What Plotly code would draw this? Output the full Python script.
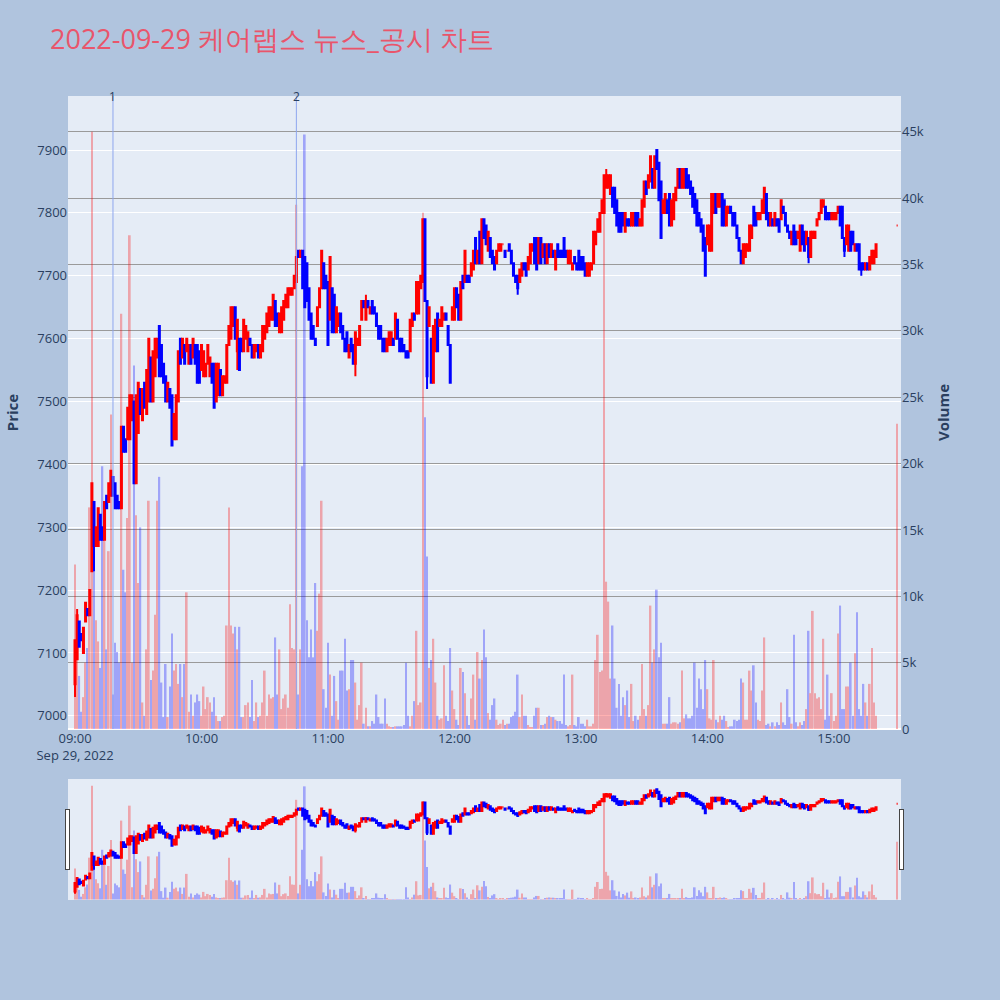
import pandas as pd
import plotly.graph_objects as go

TITLE = "2022-09-29 케어랩스 뉴스_공시 차트"

# minute offsets from 09:00 (continuous session 09:00-15:20, closing auction 15:30)
MINUTES = list(range(381)) + [390]

OPEN = [
    7050,7090,7150,7130,7100,7150,7170,7160,7230,7340,
    7270,7270,7320,7300,7280,7350,7340,7350,7380,7370,
    7350,7340,7330,7460,7440,7440,7440,7470,7500,7370,
    7450,7520,7470,7530,7480,7500,7570,7500,7540,7570,
    7620,7590,7560,7540,7500,7520,7510,7440,7440,7500,
    7600,7570,7590,7580,7560,7590,7570,7590,7590,7580,
    7550,7540,7540,7560,7540,7560,7560,7500,7510,7550,
    7510,7530,7530,7590,7600,7620,7650,7580,7600,7600,
    7580,7600,7580,7600,7590,7570,7580,7590,7570,7580,
    7600,7610,7620,7630,7630,7660,7640,7610,7610,7630,
    7650,7650,7670,7670,7680,7690,7740,7730,7740,7730,
    7720,7680,7640,7620,7600,7620,7650,7680,7720,7700,
    7690,7630,7680,7670,7610,7620,7640,7620,7600,7610,
    7570,7600,7590,7560,7590,7590,7630,7660,7630,7660,
    7640,7660,7650,7640,7620,7620,7600,7600,7580,7590,
    7590,7600,7600,7630,7600,7600,7590,7580,7580,7580,
    7620,7640,7640,7640,7680,7690,7790,7660,7620,7600,
    7530,7580,7640,7620,7620,7630,7640,7620,7590,7630,
    7630,7680,7670,7630,7700,7690,7700,7700,7700,7710,
    7760,7720,7770,7720,7790,7780,7740,7760,7740,7730,
    7720,7740,7740,7750,7740,7740,7750,7740,7720,7700,
    7700,7690,7700,7720,7720,7710,7720,7740,7760,7760,
    7720,7760,7730,7750,7720,7750,7730,7740,7710,7750,
    7740,7740,7760,7740,7720,7720,7710,7730,7720,7740,
    7730,7730,7720,7700,7700,7710,7720,7750,7770,7770,
    7800,7800,7840,7840,7830,7840,7840,7820,7800,7800,
    7800,7770,7790,7790,7780,7780,7800,7800,7780,7780,
    7810,7850,7840,7850,7870,7840,7900,7880,7850,7800,
    7800,7820,7830,7780,7790,7820,7840,7870,7840,7840,
    7870,7860,7850,7840,7830,7820,7800,7790,7780,7760,
    7750,7740,7740,7800,7830,7810,7810,7830,7820,7780,
    7800,7810,7800,7800,7780,7760,7740,7720,7730,7740,
    7740,7760,7810,7800,7790,7790,7800,7800,7830,7800,
    7780,7790,7780,7790,7790,7790,7810,7800,7780,7770,
    7750,7780,7770,7760,7740,7780,7770,7750,7760,7730,
    7760,7760,7780,7790,7800,7810,7810,7800,7800,7790,
    7790,7790,7800,7810,7810,7760,7750,7740,7770,7770,
    7740,7750,7750,7720,7720,7710,7720,7710,7720,7720,
    7730,
    7780,
]

CLOSE = [
    7120,7160,7110,7120,7140,7180,7160,7200,7370,7270,
    7300,7330,7280,7280,7340,7330,7370,7390,7350,7330,
    7330,7330,7460,7420,7420,7490,7510,7510,7370,7510,
    7530,7480,7520,7490,7550,7600,7500,7580,7600,7600,
    7540,7540,7530,7500,7530,7490,7430,7480,7510,7580,
    7560,7600,7560,7600,7590,7560,7600,7560,7530,7530,
    7590,7580,7560,7590,7570,7530,7490,7560,7560,7510,
    7540,7540,7590,7620,7650,7650,7600,7630,7550,7580,
    7630,7620,7610,7590,7570,7590,7590,7570,7590,7620,
    7620,7640,7650,7650,7670,7620,7620,7640,7650,7660,
    7670,7680,7680,7680,7700,7730,7730,7740,7680,7650,
    7660,7630,7600,7600,7590,7650,7680,7740,7680,7680,
    7590,7730,7610,7610,7650,7640,7610,7600,7580,7580,
    7590,7580,7560,7610,7600,7620,7660,7650,7660,7650,
    7650,7640,7640,7620,7600,7600,7580,7580,7600,7610,
    7610,7590,7640,7600,7580,7580,7580,7570,7570,7630,
    7640,7630,7690,7690,7700,7790,7660,7540,7650,7530,
    7620,7630,7580,7630,7650,7640,7630,7590,7530,7650,
    7680,7650,7630,7690,7680,7740,7690,7690,7720,7740,
    7720,7740,7720,7790,7760,7750,7770,7730,7720,7710,
    7740,7750,7750,7750,7730,7740,7740,7720,7700,7690,
    7680,7710,7720,7710,7700,7730,7750,7750,7720,7710,
    7760,7720,7750,7720,7750,7730,7750,7730,7740,7730,
    7730,7730,7730,7730,7740,7740,7720,7720,7710,7710,
    7710,7710,7700,7720,7720,7720,7770,7770,7790,7800,
    7820,7860,7860,7860,7860,7810,7800,7780,7770,7770,
    7780,7800,7780,7780,7800,7800,7780,7780,7790,7820,
    7850,7830,7860,7890,7840,7890,7870,7820,7760,7820,
    7830,7800,7780,7820,7830,7840,7870,7840,7870,7870,
    7840,7840,7830,7810,7800,7780,7780,7770,7740,7700,
    7780,7780,7830,7830,7800,7830,7830,7780,7780,7810,
    7810,7800,7780,7780,7760,7740,7720,7750,7750,7750,
    7780,7780,7780,7780,7800,7800,7820,7840,7790,7780,
    7800,7780,7800,7780,7770,7820,7800,7780,7770,7760,
    7770,7750,7750,7770,7780,7750,7740,7770,7730,7770,
    7770,7770,7790,7800,7820,7820,7790,7790,7790,7800,
    7800,7800,7810,7780,7760,7740,7780,7780,7740,7750,
    7750,7740,7710,7710,7710,7720,7710,7730,7740,7740,
    7750,
    7780,
]

# wicks visible beyond the candle bodies (minute offset -> price)
HIGH_WICKS = {1: 7170, 138: 7670, 252: 7870}
LOW_WICKS = {0: 7030, 9: 7230, 77: 7550, 133: 7540, 167: 7520,
             210: 7670, 348: 7720, 365: 7730, 373: 7700}

VOLUME = [
    12400,5400,4000,1300,2400,5000,6100,16700,45000,17200,
    8200,6600,4600,19800,16600,6000,13400,23700,2600,6500,
    5800,5000,31300,12000,10300,15900,37200,5000,27400,16100,
    11000,15200,2000,1000,6000,17200,3700,4400,8600,17200,
    19000,3500,900,4900,900,3200,7200,4400,4900,3400,
    4900,2400,4900,10300,1300,2600,1000,2000,2600,2100,
    1000,3200,1500,2400,2000,1300,2400,1000,600,600,
    900,1000,7800,16700,7800,7200,7700,6000,7700,900,
    900,1800,2000,900,3700,600,2000,900,1000,2000,
    4400,1000,2600,2300,2400,6900,2600,6000,1500,2300,
    2600,1600,9400,6100,6000,39500,2600,6000,19800,44800,
    8200,5400,7500,5400,11000,7400,10200,17200,3000,1600,
    6500,4100,1000,4000,2100,700,4400,4400,6800,2900,
    3000,5200,5200,3500,700,1800,5000,400,1600,200,
    200,600,400,2600,900,400,400,2300,400,200,
    100,100,200,200,200,200,300,5000,1000,200,
    1000,2100,7400,1800,2000,38900,23500,13000,4600,5200,
    6800,3500,1000,700,800,4800,1000,600,6100,2900,
    1500,700,300,4600,4300,2700,1000,300,2300,4100,
    700,5800,3800,5200,7500,5400,1200,700,1800,2300,
    700,300,400,700,300,400,400,900,1000,1300,
    4100,900,2600,1000,1000,300,100,100,1000,1600,
    1600,300,300,400,900,1000,900,900,700,600,
    600,400,4100,300,200,300,4100,300,200,900,
    400,400,200,700,200,200,400,5200,7100,4300,
    4400,41700,11100,9600,3800,7800,3800,1600,3400,1000,
    2400,1800,2900,900,3400,600,1000,700,1000,4900,
    1500,1000,1800,9300,5000,6000,10500,5400,6500,400,
    400,400,2400,400,500,500,400,500,4400,800,
    1100,800,800,1000,5000,1600,3800,3000,1500,5200,
    3000,800,700,5200,700,500,1000,700,1000,600,
    100,200,200,700,600,700,3800,3500,700,700,
    4400,2900,4800,2000,700,600,2900,6900,300,400,
    200,500,200,500,300,2000,500,300,3000,900,
    400,7100,500,200,500,300,600,1500,7400,2700,
    8900,2700,2300,2400,1500,6800,700,4100,1000,2700,
    600,1000,7200,9300,1500,1500,3200,3200,5000,1000,
    5700,8800,1500,1000,3400,2000,1000,3400,6100,2000,
    1000,
    23000,
]

NEWS_TIMES = ["2022-09-29 09:18", "2022-09-29 10:45"]
NEWS_LABELS = ["1", "2"]

UP_COLOR = "red"
DOWN_COLOR = "blue"

base = pd.Timestamp("2022-09-29 09:00")
times = [base + pd.Timedelta(minutes=m) for m in MINUTES]

high = []
low = []
for m, o, c in zip(MINUTES, OPEN, CLOSE):
    high.append(HIGH_WICKS.get(m, max(o, c)))
    low.append(LOW_WICKS.get(m, min(o, c)))

vol_colors = []
prev_dir = UP_COLOR
for i, (o, c) in enumerate(zip(OPEN, CLOSE)):
    if c > o:
        d = UP_COLOR
    elif c < o:
        d = DOWN_COLOR
    else:
        if i > 0 and c > CLOSE[i - 1]:
            d = UP_COLOR
        elif i > 0 and c < CLOSE[i - 1]:
            d = DOWN_COLOR
        else:
            d = prev_dir
    vol_colors.append(d)
    prev_dir = d

fig = go.Figure()
fig.add_trace(go.Candlestick(
    x=times, open=OPEN, high=high, low=low, close=CLOSE,
    increasing=dict(line=dict(color=UP_COLOR, width=2), fillcolor=UP_COLOR),
    decreasing=dict(line=dict(color=DOWN_COLOR, width=2), fillcolor=DOWN_COLOR),
    yaxis="y", showlegend=False, name="Price",
))
fig.add_trace(go.Bar(
    x=times, y=VOLUME, marker=dict(color=vol_colors, line=dict(width=0)),
    opacity=0.3, yaxis="y2", showlegend=False, name="Volume",
))

for t, lab in zip(NEWS_TIMES, NEWS_LABELS):
    fig.add_shape(type="line", xref="x", yref="paper", x0=t, x1=t, y0=0, y1=1,
                  line=dict(color="#8ea6ef", width=1))
    fig.add_annotation(x=t, xref="x", y=1, yref="paper", yanchor="middle",
                       text=lab, showarrow=False,
                       font=dict(size=12, color="#2a3f5f"))

x_range = ["2022-09-29 08:56:40", "2022-09-29 15:31:50"]

fig.update_layout(
    width=1000, height=1000,
    template="plotly",
    paper_bgcolor="#B0C4DE",
    plot_bgcolor="#E5ECF6",
    margin=dict(l=68, r=99, t=96, b=100),
    title=dict(text=TITLE, x=0.05, y=0.96, yanchor="middle",
               font=dict(size=27, color="#E9556B")),
    showlegend=False,
    xaxis=dict(
        type="date", range=x_range, showgrid=False, automargin=False,
        tickfont=dict(size=13),
        rangeslider=dict(visible=True, thickness=0.15, bgcolor="#E5ECF6",
                         range=x_range),
    ),
    yaxis=dict(
        title=dict(text="<b>Price</b>", font=dict(size=15)),
        range=[6979, 7986], dtick=100, automargin=False,
        gridcolor="white", tickfont=dict(size=13),
    ),
    yaxis2=dict(
        title=dict(text="<b>Volume</b>", font=dict(size=15)),
        overlaying="y", side="right", range=[0, 47700], dtick=5000,
        automargin=False, gridcolor="#9a9a9a", tickfont=dict(size=13),
        showgrid=True,
    ),
)

fig.write_html("out.html", config={"displayModeBar": False},
               post_script="document.body.style.margin='0px';")
